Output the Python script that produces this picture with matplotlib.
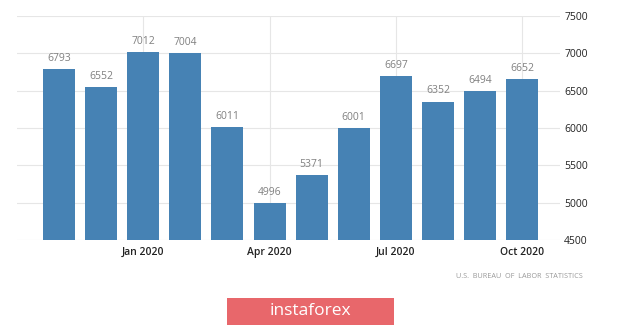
import matplotlib
matplotlib.use("Agg")
import matplotlib.pyplot as plt
from matplotlib.patches import FancyBboxPatch

months = ["Nov 2019", "Dec 2019", "Jan 2020", "Feb 2020", "Mar 2020", "Apr 2020",
          "May 2020", "Jun 2020", "Jul 2020", "Aug 2020", "Sep 2020", "Oct 2020"]
values = [6793, 6552, 7012, 7004, 6011, 4996, 5371, 6001, 6697, 6352, 6494, 6652]
xtick_labels = ["Jan 2020", "Apr 2020", "Jul 2020", "Oct 2020"]
yticks = [4500, 5000, 5500, 6000, 6500, 7000, 7500]

plt.rcParams['font.family'] = ['Open Sans', 'DejaVu Sans']

fig = plt.figure(figsize=(6.2, 3.27), dpi=100)
ax = fig.add_axes([17/620, 1-240/327, (560-17)/620, (240-16)/327])

x = list(range(len(months)))
bars = ax.bar(x, values, width=0.76, color="#4682b4", zorder=3)
for xi, v in zip(x, values):
    ax.text(xi, v + 70, str(v), ha="center", va="bottom", fontsize=7.5, color="#808080", zorder=4)

ax.set_ylim(4500, 7500)
ax.set_xlim(-1.0, 11.9)
ax.set_yticks(yticks)
ax.set_yticklabels([str(t) for t in yticks], fontsize=7.5, color="#222222")
ax.yaxis.tick_right()
tick_pos = [months.index(l) for l in xtick_labels]
ax.set_xticks(tick_pos)
ax.set_xticklabels(xtick_labels, fontsize=7.5, color="#222222", fontweight="semibold")
ax.tick_params(axis="both", length=0, pad=5)
ax.tick_params(axis="y", pad=3)
ax.grid(True, color="#e6e6e6", linewidth=0.8, zorder=0)
for s in ax.spines.values():
    s.set_visible(False)

fig.text(583/620, 1-276/327, "U.S.  BUREAU  OF  LABOR  STATISTICS", ha="right", va="center",
         fontsize=5.2, color="#999999")

box = FancyBboxPatch((227/620, 1-325/327), (394-227)/620, (325-298)/327,
                     boxstyle="square,pad=0", transform=fig.transFigure,
                     facecolor="#e8676b", edgecolor="none")
fig.patches.append(box)
fig.text(310/620, 1-311/327, "instaforex", ha="center", va="center", fontsize=12.5,
         color="white")

fig.savefig("out.png", dpi=100)
